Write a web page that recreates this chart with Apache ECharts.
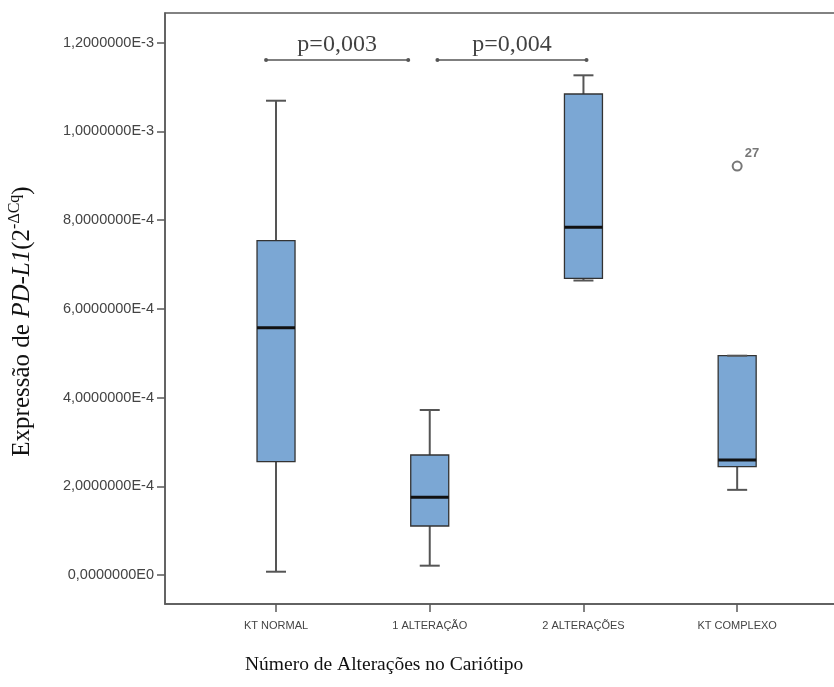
<!DOCTYPE html>
<html>
<head>
<meta charset="utf-8">
<script src="https://cdn.jsdelivr.net/npm/echarts@6/dist/echarts.min.js"></script>
<style>
  html, body { margin: 0; padding: 0; background: #fff; }
  #chart { width: 834px; height: 687px; }
</style>
</head>
<body>
<div id="chart"></div>
<script>
// categorias do eixo x
const categories = ['KT NORMAL', '1 ALTERAÇÃO', '2 ALTERAÇÕES', 'KT COMPLEXO']
// estatísticas dos boxplots
const whiskerLow = [7.4e-6, 2.1e-5, 6.64e-4, 1.92e-4]
const q1 = [2.555e-4, 1.105e-4, 6.69e-4, 2.442e-4]
const medians = [5.576e-4, 1.752e-4, 7.84e-4, 2.593e-4]
const q3 = [7.538e-4, 2.706e-4, 1.0846e-3, 4.945e-4]
const whiskerHigh = [1.0694e-3, 3.72e-4, 1.1267e-3, 4.945e-4]
// outlier: [categoria, valor, caso]
const outliers = [[3, 9.22e-4, '27']]
// ticks do eixo y
const yTickValues = [0, 2e-4, 4e-4, 6e-4, 8e-4, 1e-3, 1.2e-3]
const yTickLabels = ['0,0000000E0', '2,0000000E-4', '4,0000000E-4', '6,0000000E-4', '8,0000000E-4', '1,0000000E-3', '1,2000000E-3']
// comparações (p valores)
const pBrackets = [[-0.065, 0.86], [1.05, 2.02]]
const pLevel = 1.1612e-3
const pLabels = ['p=0,003', 'p=0,004']

const axisColor = '#5a5a5a'
const boxData = categories.map((c, i) => [i, whiskerLow[i], q1[i], medians[i], q3[i], whiskerHigh[i]])

const chart = echarts.init(document.getElementById('chart'))

const series = [
  {
    type: 'custom',
    data: boxData,
    encode: { x: 0, y: [1, 2, 3, 4, 5] },
    renderItem (params, api) {
      const i = api.value(0)
      const lo = api.coord([i, api.value(1)])
      const b = api.coord([i, api.value(2)])
      const m = api.coord([i, api.value(3)])
      const t = api.coord([i, api.value(4)])
      const hi = api.coord([i, api.value(5)])
      const x = lo[0]
      const bw = 38
      const cw = 20
      const wStyle = { stroke: '#555', lineWidth: 2 }
      return {
        type: 'group',
        children: [
          { type: 'line', shape: { x1: x, y1: hi[1], x2: x, y2: t[1] }, style: wStyle },
          { type: 'line', shape: { x1: x, y1: b[1], x2: x, y2: lo[1] }, style: wStyle },
          { type: 'rect', shape: { x: x - bw / 2, y: t[1], width: bw, height: b[1] - t[1] }, style: { fill: '#7ba7d4', stroke: '#333', lineWidth: 1.3 } },
          { type: 'line', shape: { x1: x - bw / 2, y1: m[1], x2: x + bw / 2, y2: m[1] }, style: { stroke: '#111', lineWidth: 3 } },
          { type: 'line', shape: { x1: x - cw / 2, y1: hi[1], x2: x + cw / 2, y2: hi[1] }, style: wStyle },
          { type: 'line', shape: { x1: x - cw / 2, y1: lo[1], x2: x + cw / 2, y2: lo[1] }, style: wStyle }
        ]
      }
    }
  },
  {
    type: 'scatter',
    data: outliers.map(o => [o[0], o[1]]),
    symbol: 'emptyCircle',
    symbolSize: 9,
    itemStyle: { color: '#555', borderWidth: 1.6 },
    label: {
      show: true,
      position: 'right',
      offset: [-3, -13],
      formatter: p => outliers[p.dataIndex][2],
      fontFamily: 'Liberation Sans',
      fontSize: 13,
      fontWeight: 'bold',
      color: '#555'
    }
  }
]

pBrackets.forEach((br, k) => {
  series.push({
    type: 'line',
    data: [[br[0], pLevel], [br[1], pLevel]],
    symbol: 'circle',
    symbolSize: 4,
    lineStyle: { color: '#555', width: 1.3 },
    itemStyle: { color: '#555' }
  })
  series.push({
    type: 'scatter',
    data: [[(br[0] + br[1]) / 2, pLevel]],
    symbolSize: 0,
    label: {
      show: true,
      position: 'top',
      distance: 3,
      formatter: pLabels[k],
      fontFamily: 'Liberation Serif',
      fontSize: 24,
      color: '#111'
    }
  })
})

const option = {
  animation: false,
  title: {
    text: 'Número de Alterações no Cariótipo',
    left: 240,
    top: 650,
    textStyle: { fontFamily: 'Liberation Serif', fontSize: 19.5, fontWeight: 'normal', color: '#111' }
  },
  grid: {
    left: 165,
    top: 13,
    bottom: 83,
    right: -4,
    outerBoundsMode: 'none',
    show: true,
    borderColor: axisColor,
    borderWidth: 1.5
  },
  xAxis: {
    type: 'value',
    min: -0.7223,
    max: 3.656,
    splitLine: { show: false },
    axisLine: { onZero: false, lineStyle: { color: axisColor, width: 1.5 } },
    axisTick: { length: 8, lineStyle: { color: axisColor, width: 1.5 }, customValues: [0, 1, 2, 3] },
    axisLabel: {
      customValues: [0, 1, 2, 3],
      formatter: v => categories[Math.round(v)],
      margin: 16,
      fontFamily: 'Liberation Sans',
      fontSize: 11,
      color: '#444'
    }
  },
  yAxis: {
    type: 'value',
    min: -6.539e-5,
    max: 1.26719e-3,
    splitLine: { show: false },
    axisLine: { show: true, onZero: false, lineStyle: { color: axisColor, width: 1.5 } },
    axisTick: { show: true, length: 8, lineStyle: { color: axisColor, width: 1.5 }, customValues: yTickValues },
    axisLabel: {
      customValues: yTickValues,
      formatter: v => yTickLabels[yTickValues.indexOf(v)] || '',
      margin: 11,
      fontFamily: 'Liberation Sans',
      fontSize: 14.5,
      color: '#444'
    },
    name: '{a|Expressão de }{i|PD-L1}{a|(2}{s|-ΔCq}{a|)}{pad|}',
    nameLocation: 'middle',
    nameGap: 128,
    nameTextStyle: {
      rich: {
        a: { fontFamily: 'Liberation Serif', fontSize: 25, color: '#111', lineHeight: 30 },
        i: { fontFamily: 'Liberation Serif', fontStyle: 'italic', fontSize: 25, color: '#111', lineHeight: 30 },
        s: { fontFamily: 'Liberation Serif', fontSize: 16, color: '#111', lineHeight: 16, verticalAlign: 'top' },
        pad: { width: 26, lineHeight: 30 }
      }
    }
  },
  series: series
}

chart.setOption(option)
</script>
</body>
</html>
